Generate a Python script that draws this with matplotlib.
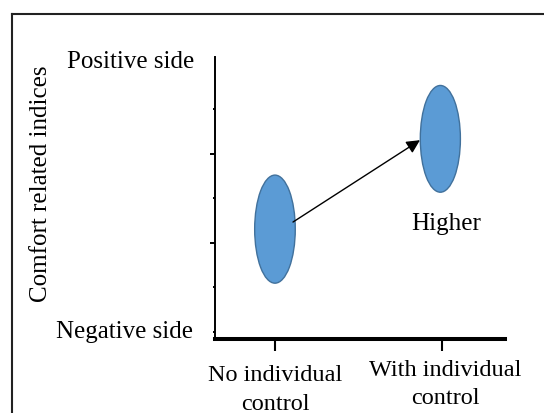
import matplotlib
matplotlib.use("Agg")
import matplotlib.pyplot as plt
from matplotlib.patches import Ellipse
from matplotlib.lines import Line2D
from matplotlib.transforms import blended_transform_factory

plt.rcParams["font.family"] = ["Liberation Serif", "DejaVu Serif"]

# dados
categorias = ["No individual\ncontrol", "With individual\ncontrol"]
cat_x = [0, 0.99]
centro_y = [2.31, 4.34]
largura = [0.243, 0.24]
altura = [2.43, 2.40]
seta_ini = (0.108, 2.47)
seta_fim = (0.868, 4.31)

COR_ELIPSE = "#5B9BD5"
COR_BORDA = "#41719C"

fig = plt.figure(figsize=(5.44, 4.14), dpi=100)
W, H = 544, 414

# moldura parcial (topo e esquerda)
fig.add_artist(Line2D([12 / W, 1.0], [1 - 15 / H, 1 - 15 / H], color="#222222", lw=1.5))
fig.add_artist(Line2D([12 / W, 12 / W], [0, 1 - 15 / H], color="#222222", lw=1.5))

ax = fig.add_axes([215 / W, 1 - 340 / H, (505 - 215) / W, (340 - 58) / H])
ax.set_xlim(-0.359, 1.377)
ax.set_ylim(-0.16, 6.18)

for sp in ["top", "right"]:
    ax.spines[sp].set_visible(False)
ax.spines["left"].set_linewidth(1.4)
ax.spines["bottom"].set_linewidth(2.9)

ax.set_xticks([0, 1])
ax.set_xticklabels([])
ax.tick_params(axis="x", length=8.6, width=1.5, direction="out")
ax.set_yticks([2, 4])
ax.set_yticks([0, 1, 3, 5], minor=True)
ax.set_yticklabels([])
ax.tick_params(axis="y", which="major", length=3.6, width=1.4, direction="out")
ax.tick_params(axis="y", which="minor", length=1.5, width=1.4, direction="out")

for x, y, w, h in zip(cat_x, centro_y, largura, altura):
    ax.add_patch(Ellipse((x, y), w, h, facecolor=COR_ELIPSE,
                         edgecolor=COR_BORDA, lw=1.0, zorder=3))

ax.annotate("", xy=seta_fim, xytext=seta_ini,
            arrowprops=dict(arrowstyle="-|>", color="black", lw=1.0,
                            mutation_scale=20, shrinkA=0, shrinkB=0))

ax.text(1.024, 2.31, "Higher", ha="center", va="baseline", fontsize=18)

# rotulos do eixo x
trans = blended_transform_factory(ax.transData, fig.transFigure)
ax.text(0, 1 - 410 / H, categorias[0], transform=trans, ha="center",
        va="baseline", fontsize=17.5, linespacing=1.5)
ax.text(1.02, 1 - 404 / H, categorias[1], transform=trans, ha="center",
        va="baseline", fontsize=17.5, linespacing=1.45)

fig.text(131 / W, 1 - 68 / H, "Positive side", ha="center", va="baseline", fontsize=18)
fig.text(124 / W, 1 - 338 / H, "Negative side", ha="center", va="baseline", fontsize=18)
fig.text(41 / W, 1 - 184 / H, "Comfort related indices", rotation=90,
         ha="center", va="center", fontsize=18)

fig.savefig("out.png", dpi=100, facecolor="white")
